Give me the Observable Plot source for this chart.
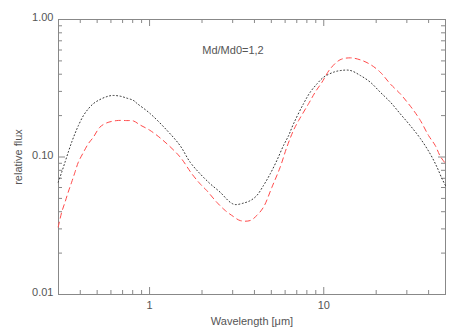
<!DOCTYPE html>
<html><head><meta charset="utf-8">
<script src="https://cdn.jsdelivr.net/npm/d3@7"></script>
<script src="https://cdn.jsdelivr.net/npm/@observablehq/plot@0.6"></script>
<style>body{margin:0;background:#fff}</style>
</head><body><div id="chart"></div>
<script>
const title = "Md/Md0=1,2";
const xLabel = "Wavelength [μm]";
const yLabel = "relative flux";
const xMajorTicks = [1, 10];
const xMinorTicks = [0.4,0.5,0.6,0.7,0.8,0.9,2,3,4,5,6,7,8,9,20,30,40];
const yMajorTicks = [0.01, 0.1, 1];
const yMinorTicks = [0.02,0.03,0.04,0.05,0.06,0.07,0.08,0.09,0.2,0.3,0.4,0.5,0.6,0.7,0.8,0.9];

const wlDotted = [0.299,0.313,0.327,0.341,0.357,0.373,0.390,0.417,0.445,0.475,0.508,0.555,0.607,0.677,0.740,0.807,0.848,1.007,1.26,1.497,1.709,1.95,2.23,2.54,2.90,3.10,3.46,3.8,4.13,4.51,4.93,5.38,5.87,6.28,6.70,7.65,8.36,9.14,9.97,11.4,12.6,14.2,16.2,18.5,21.1,24.1,27.5,31.4,35.9,40.9,44.7,47.8,50];
const fluxDotted = [0.0656,0.0775,0.0917,0.108,0.128,0.148,0.169,0.200,0.224,0.244,0.258,0.272,0.280,0.277,0.268,0.258,0.245,0.207,0.156,0.121,0.0917,0.0755,0.0638,0.0555,0.0469,0.0451,0.0462,0.0483,0.0525,0.0621,0.0755,0.0944,0.121,0.143,0.174,0.244,0.296,0.340,0.380,0.414,0.426,0.426,0.392,0.350,0.296,0.251,0.206,0.169,0.136,0.105,0.0843,0.0693,0.062];
const wlDashed = [0.299,0.313,0.327,0.341,0.357,0.373,0.390,0.417,0.445,0.475,0.519,0.567,0.648,0.740,0.807,0.882,1.007,1.196,1.497,1.748,1.95,2.13,2.43,2.72,3.03,3.31,3.78,4.13,4.51,5.04,5.62,6.14,6.70,7.17,8.18,8.93,9.77,10.9,12.4,14.2,16.2,18.5,21.1,24.1,27.5,30.1,32.8,35.9,40.0,43.7,46.7,50];
const fluxDashed = [0.031,0.0397,0.0469,0.0555,0.0656,0.0775,0.0917,0.108,0.125,0.139,0.165,0.177,0.184,0.184,0.183,0.171,0.156,0.132,0.100,0.0755,0.0638,0.0570,0.0469,0.0408,0.0369,0.0345,0.0345,0.0376,0.0432,0.0603,0.0843,0.118,0.156,0.184,0.244,0.296,0.350,0.438,0.509,0.526,0.509,0.471,0.414,0.340,0.288,0.251,0.218,0.184,0.143,0.121,0.101,0.0897];

const W = 463, H = 331, mL = 58, mR = 18, mT = 19, mB = 37;
const pW = W - mL - mR, pH = H - mT - mB;
const axisColor = "#888", textColor = "#555";
const major = 7, minor = 4;

const dotted = wlDotted.map((w, i) => ({w, f: fluxDotted[i]}));
const dashed = wlDashed.map((w, i) => ({w, f: fluxDashed[i]}));

const chart = Plot.plot({
  width: W, height: H,
  marginLeft: mL, marginRight: mR, marginTop: mT, marginBottom: mB,
  style: {fontFamily: "'Liberation Sans', Arial, sans-serif", fontSize: "11px", color: textColor, background: "#fff"},
  x: {type: "log", domain: [0.3, 50]},
  y: {type: "log", domain: [0.01, 1]},
  marks: [
    Plot.frame({stroke: axisColor}),
    Plot.ruleX(xMajorTicks, {x: d => d, insetTop: pH - major, stroke: axisColor}),
    Plot.ruleX(xMinorTicks, {x: d => d, insetTop: pH - minor, stroke: axisColor}),
    Plot.ruleX(xMajorTicks, {x: d => d, insetBottom: pH - major, stroke: axisColor}),
    Plot.ruleX(xMinorTicks, {x: d => d, insetBottom: pH - minor, stroke: axisColor}),
    Plot.ruleY(yMajorTicks, {y: d => d, insetRight: pW - major, stroke: axisColor}),
    Plot.ruleY(yMinorTicks, {y: d => d, insetRight: pW - minor, stroke: axisColor}),
    Plot.ruleY(yMajorTicks, {y: d => d, insetLeft: pW - major, stroke: axisColor}),
    Plot.ruleY(yMinorTicks, {y: d => d, insetLeft: pW - minor, stroke: axisColor}),
    Plot.axisX({ticks: xMajorTicks, tickFormat: d => String(d), tickSize: 0, tickPadding: 7,
      label: xLabel, labelAnchor: "center", labelArrow: "none", labelOffset: 30, fontSize: 11}),
    Plot.axisY({ticks: yMajorTicks, tickFormat: d3.format(".2f"), tickSize: 0, tickPadding: 5, dy: -2,
      label: yLabel, labelAnchor: "center", labelArrow: "none", labelOffset: 44, fontSize: 11}),
    Plot.line(dotted, {x: "w", y: "f", curve: "catmull-rom", stroke: "#333", strokeWidth: 1, strokeDasharray: "1,2.5"}),
    Plot.line(dashed, {x: "w", y: "f", curve: "catmull-rom", stroke: "#ff4a4a", strokeWidth: 1, strokeDasharray: "5,4"}),
    Plot.text([title], {frameAnchor: "top", dx: -19, dy: 27, text: d => d, fill: textColor, fontSize: 11})
  ]
});
document.getElementById("chart").appendChild(chart);
</script>
</body></html>
